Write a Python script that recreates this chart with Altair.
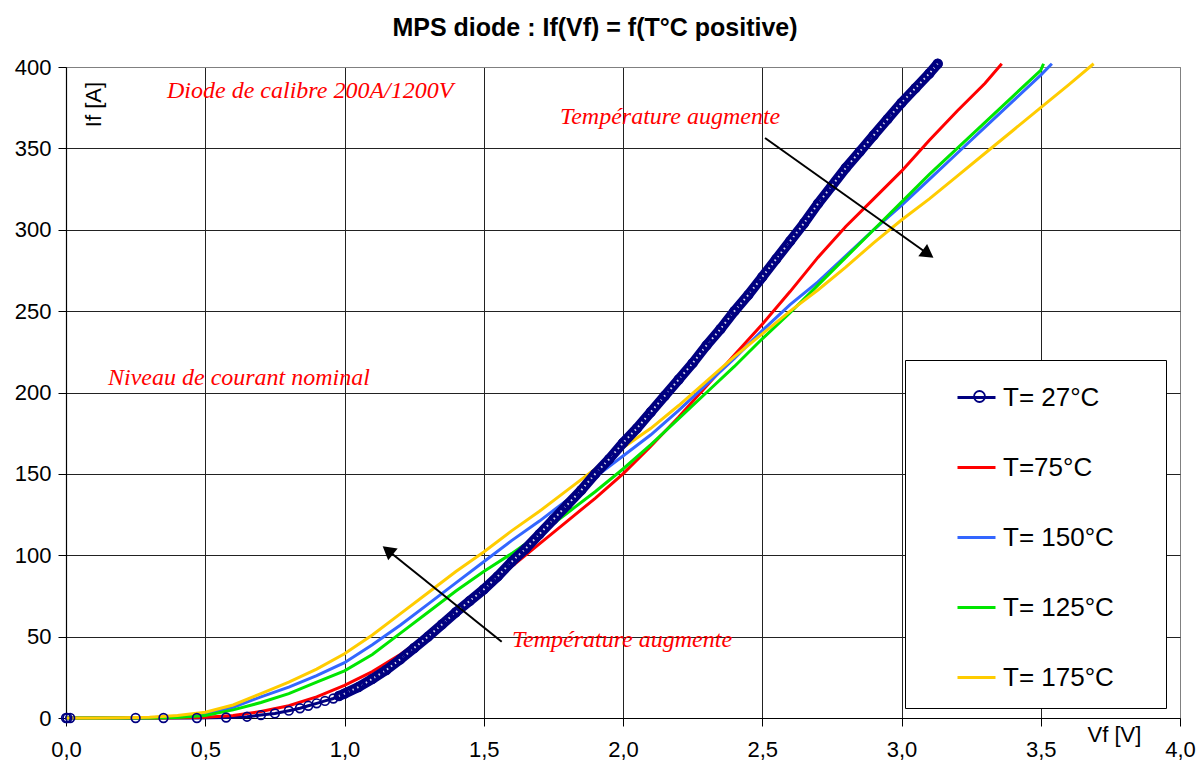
import altair as alt
import pandas as pd

# ---------------- data ----------------
series_labels = ["T= 27°C", "T=75°C", "T= 150°C", "T= 125°C", "T= 175°C"]
series_colors = ["#000080", "#FF0000", "#3366FF", "#00E600", "#FFCC00"]

navy_v = [0.0, 0.005, 0.015, 0.25, 0.35, 0.47, 0.575, 0.65, 0.7, 0.75, 0.8, 0.84, 0.87, 0.9,
          0.93, 0.96, 0.98, 1.0, 1.05, 1.1, 1.15, 1.2, 1.25, 1.3, 1.35, 1.4, 1.45, 1.5, 1.55,
          1.6, 1.65, 1.7, 1.75, 1.8, 1.85, 1.9, 1.95, 2.0, 2.05, 2.1, 2.15, 2.2, 2.25, 2.3,
          2.35, 2.4, 2.45, 2.5, 2.55, 2.6, 2.65, 2.7, 2.75, 2.8, 2.85, 2.9, 2.95, 3.0, 3.05,
          3.1, 3.13]
navy_i = [0, 0, 0, 0, 0, 0, 0.3, 0.8, 1.8, 2.8, 4.5, 6, 7.5, 9,
          10.5, 12, 13.5, 15, 19, 24, 29.5, 36, 43, 50, 57.5, 65, 72, 79, 87,
          96, 104, 113, 122, 131, 140, 150, 159, 169, 178, 188, 198, 208, 218, 229,
          239, 250, 260, 271, 282, 293, 304, 316, 327, 338, 348, 358, 368, 378, 387,
          396, 402]

red_v = [0.0, 0.1, 0.2, 0.3, 0.4, 0.5, 0.6, 0.7, 0.8, 0.9, 1.0, 1.1, 1.2, 1.3, 1.4, 1.5, 1.6,
         1.7, 1.8, 1.9, 2.0, 2.1, 2.2, 2.3, 2.4, 2.5, 2.6, 2.7, 2.8, 2.9, 3.0, 3.1, 3.2, 3.3, 3.36]
red_i = [0, 0, 0, 0, 0.1, 0.5, 1.5, 4, 7.5, 13, 20, 28.5, 39, 51, 64, 78, 93,
         107, 121, 135, 150, 167, 185, 204, 223, 242, 262, 283, 302, 319, 336, 355, 373, 390, 402]

blue_v = [0.0, 0.1, 0.2, 0.3, 0.4, 0.5, 0.6, 0.7, 0.8, 0.9, 1.0, 1.1, 1.2, 1.3, 1.4, 1.5, 1.6,
          1.7, 1.8, 1.9, 2.0, 2.1, 2.2, 2.3, 2.4, 2.5, 2.6, 2.7, 2.8, 2.9, 3.0, 3.1, 3.2, 3.3,
          3.4, 3.5, 3.54]
blue_i = [0, 0, 0, 0.2, 1, 2.5, 6.5, 13, 19, 26, 34, 45, 57, 70, 83, 96, 109,
          121, 134, 148, 161, 174, 189, 205, 221, 238, 254, 268, 284, 300, 315, 331, 347, 363,
          379, 395, 402]

green_v = [0.0, 0.1, 0.2, 0.3, 0.4, 0.5, 0.6, 0.7, 0.8, 0.9, 1.0, 1.1, 1.2, 1.3, 1.4, 1.5, 1.6,
           1.7, 1.8, 1.9, 2.0, 2.1, 2.2, 2.3, 2.4, 2.5, 2.6, 2.7, 2.8, 2.9, 3.0, 3.1, 3.2, 3.3,
           3.4, 3.5, 3.51]
green_i = [0, 0, 0, 0, 0.3, 1.5, 5, 9.5, 15, 22, 29, 39, 52, 65, 78, 90, 101,
           113, 126, 139, 153, 168, 184, 200, 216, 233, 249, 266, 283, 300, 317, 334, 350, 366,
           382, 398, 402]

yellow_v = [0.0, 0.1, 0.2, 0.3, 0.4, 0.5, 0.6, 0.7, 0.8, 0.9, 1.0, 1.1, 1.2, 1.3, 1.4, 1.5, 1.6,
            1.7, 1.8, 1.9, 2.0, 2.1, 2.2, 2.3, 2.4, 2.5, 2.6, 2.7, 2.8, 2.9, 3.0, 3.1, 3.2, 3.3,
            3.4, 3.5, 3.6, 3.69]
yellow_i = [0, 0, 0.2, 0.5, 1.5, 3.5, 8, 15, 22, 30, 39.5, 51, 64, 77, 90, 102, 115,
            127, 140, 153, 166, 178, 192, 207, 222, 236, 250, 263, 277, 292, 306, 319, 333, 347,
            361, 375, 389, 402]

x_ticks = [0.0, 0.5, 1.0, 1.5, 2.0, 2.5, 3.0, 3.5, 4.0]
y_ticks = [0, 50, 100, 150, 200, 250, 300, 350, 400]

note_v = [0.3627, 0.1508, 1.774, 1.601]
note_i = [380.9, 204.6, 365.0, 43.6]
note_text = ["Diode de calibre 200A/1200V", "Niveau de courant nominal",
             "Température augmente", "Température augmente"]

arrow_v = [2.510, 1.5645]
arrow_i = [356.4, 46.9]
arrow_v2 = [3.089, 1.1616]
arrow_i2 = [285.9, 102.2]
head_angle = [125.4, 308.7]

# ---------------- tables ----------------
rows = []
for lab, vs, is_ in zip(series_labels,
                        [navy_v, red_v, blue_v, green_v, yellow_v],
                        [navy_i, red_i, blue_i, green_i, yellow_i]):
    for v, i in zip(vs, is_):
        rows.append({"V": v, "I": i, "series": lab})
df_lines = pd.DataFrame(rows)
df_navy = pd.DataFrame({"V": navy_v, "I": navy_i, "series": series_labels[0]})
df_notes = pd.DataFrame({"V": note_v, "I": note_i, "txt": note_text})
df_arrows = pd.DataFrame({"V": arrow_v, "I": arrow_i, "V2": arrow_v2, "I2": arrow_i2,
                          "angle": head_angle})

FONT = "Liberation Sans"

xscale = alt.Scale(domain=[0, 4], nice=False, zero=False)
yscale = alt.Scale(domain=[0, 400], nice=False)

xaxis = alt.Axis(values=x_ticks, grid=True,
                 gridColor={"condition": {"test": "datum.value >= 4", "value": "#808080"},
                            "value": "#222222"},
                 gridWidth=1, domainColor="black", domainWidth=1.2, tickColor="black",
                 tickSize=8, labelFontSize=22, labelFont=FONT, labelColor="black",
                 labelPadding=13, labelFlush=False,
                 labelExpr="replace(format(datum.value, '.1f'), '.', ',')",
                 title="Vf [V]", titleFont=FONT, titleFontSize=22, titleFontWeight="normal",
                 titleColor="black", titleX=1048, titleY=23, titleAlign="center",
                 titleBaseline="alphabetic", titleAngle=0)
yaxis = alt.Axis(values=y_ticks, grid=True,
                 gridColor={"condition": {"test": "datum.value >= 400", "value": "#808080"},
                            "value": "#222222"},
                 gridWidth=1, domainColor="black", domainWidth=1.2, tickColor="black",
                 tickSize=8, labelFontSize=22, labelFont=FONT, labelColor="black",
                 labelPadding=7, format="d",
                 title="If [A]", titleFont=FONT, titleFontSize=22, titleFontWeight="normal",
                 titleColor="black", titleX=27, titleY=37, titleAngle=270,
                 titleAlign="center", titleBaseline="middle")

X = alt.X("V:Q", scale=xscale, axis=xaxis)
Y = alt.Y("I:Q", scale=yscale, axis=yaxis)

legend_main = alt.Legend(
    title=".", titleOrient="right", titleOpacity=0, titleFontSize=4, titlePadding=33,
    orient="none", legendX=839, legendY=293,
    fillColor="white", strokeColor="black", padding=17,
    symbolType="stroke", symbolSize=1444, symbolStrokeWidth=3, symbolOffset=34,
    symbolOpacity=1,
    labelFontSize=26, labelFont=FONT, labelColor="black", labelOffset=6,
    rowPadding=36, labelLimit=400,
)

# second, box-less legend that only puts the hollow circle on the 27 °C entry
legend_marker = alt.Legend(
    title=None, orient="none", legendX=907, legendY=323, padding=0,
    symbolType="circle", symbolSize=120, symbolStrokeWidth=1.8,
    symbolStrokeColor="#000080", symbolFillColor="white", symbolOpacity=1,
    labelFontSize=1, labelOpacity=0, labelLimit=1,
)

lines = alt.Chart(df_lines).mark_line(strokeWidth=3, clip=False).encode(
    x=X, y=Y,
    color=alt.Color("series:N", scale=alt.Scale(domain=series_labels, range=series_colors),
                    legend=legend_main),
    detail="series:N",
)

navy_band = alt.Chart(df_navy).transform_filter("datum.V >= 0.97").mark_line(
    color="#000080", strokeWidth=10, strokeCap="round").encode(x=X, y=Y)
navy_dots = alt.Chart(df_navy).transform_filter("datum.V >= 0.97").mark_line(
    color="white", strokeWidth=2, strokeDash=[1.5, 3.5], opacity=0.85).encode(x=X, y=Y)
navy_pts = alt.Chart(df_navy).mark_point(
    filled=False, color="#000080", size=75, strokeWidth=1.7, opacity=1).encode(
    x=X, y=Y,
    shape=alt.Shape("series:N", scale=alt.Scale(domain=[series_labels[0]], range=["circle"]),
                    legend=legend_marker))

notes = alt.Chart(df_notes).mark_text(
    align="left", baseline="alphabetic", font="Liberation Serif", fontStyle="italic",
    fontSize=24, color="#FF0000").encode(x=X, y=Y, text="txt:N")

arrows = alt.Chart(df_arrows).mark_rule(color="black", strokeWidth=2).encode(
    x=X, y=Y, x2="V2:Q", y2="I2:Q")
heads = alt.Chart(df_arrows).mark_point(
    shape="triangle", filled=True, color="black", size=230, opacity=1).encode(
    x=alt.X("V2:Q", scale=xscale, axis=xaxis), y=alt.Y("I2:Q", scale=yscale, axis=yaxis),
    angle=alt.Angle("angle:Q", scale=None))

chart = alt.layer(lines, navy_band, navy_dots, navy_pts, arrows, heads, notes).properties(
    width=1114, height=651,
    title=alt.TitleParams("MPS diode : If(Vf) = f(T°C positive)", font=FONT, fontSize=25,
                          fontWeight="bold", color="black", anchor="middle", dx=-28,
                          offset=3),
    padding={"left": 58, "top": 59, "right": 16, "bottom": 43},
    autosize="none",
    background="white",
).configure_view(stroke="#808080", strokeWidth=1)

chart.save("out.html", embed_options={"renderer": "svg", "actions": False})
